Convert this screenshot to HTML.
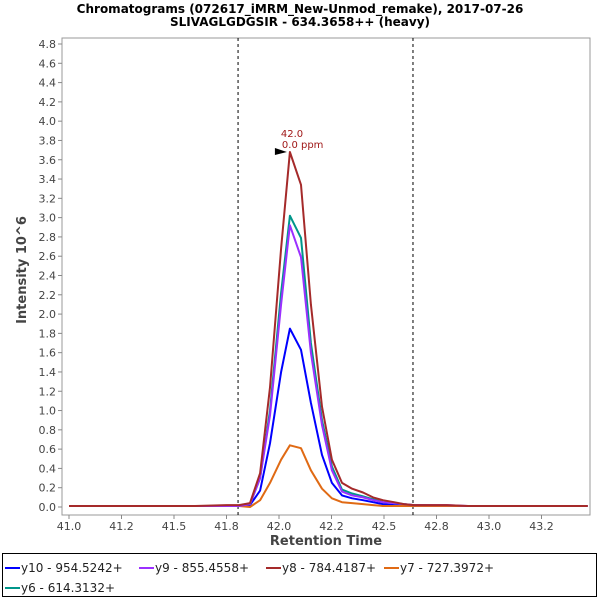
<!DOCTYPE html>
<html><head><meta charset="utf-8"><style>
body{margin:0;background:#fff;font-family:"DejaVu Sans","Liberation Sans",sans-serif}
#c{position:absolute;left:0;top:0}
text{font-family:"DejaVu Sans","Liberation Sans",sans-serif}
</style></head><body>
<svg id="c" width="600" height="600" xmlns="http://www.w3.org/2000/svg">
<g id="root"></g>
</svg>
<script>
const times=[41.0,41.3,41.6,41.75,41.81,41.862,41.910,41.957,42.010,42.052,42.105,42.152,42.205,42.252,42.300,42.348,42.400,42.448,42.495,42.548,42.595,42.643,42.7,42.8,42.9,43.0,43.2,43.47];
const y10=[0.01,0.01,0.01,0.01,0.01,0.02,0.17,0.66,1.4,1.85,1.63,1.08,0.54,0.25,0.12,0.09,0.07,0.05,0.03,0.02,0.01,0.01,0.01,0.01,0.01,0.01,0.01,0.01];
const y9=[0.01,0.01,0.01,0.01,0.01,0.03,0.3,0.95,2.1,2.92,2.59,1.6,0.85,0.38,0.16,0.12,0.1,0.07,0.05,0.04,0.03,0.02,0.02,0.02,0.01,0.01,0.01,0.01];
const y8=[0.01,0.01,0.01,0.02,0.02,0.04,0.35,1.24,2.68,3.68,3.34,2.1,1.04,0.49,0.25,0.19,0.15,0.1,0.07,0.05,0.03,0.02,0.02,0.02,0.01,0.01,0.01,0.01];
const y7=[0.01,0.01,0.01,0.01,0.01,0.0,0.07,0.25,0.49,0.64,0.61,0.38,0.19,0.09,0.05,0.04,0.03,0.02,0.01,0.01,0.01,0.01,0.01,0.01,0.01,0.01,0.01,0.01];
const y6=[0.01,0.01,0.01,0.01,0.01,0.03,0.3,1.0,2.22,3.02,2.79,1.7,0.9,0.42,0.18,0.14,0.11,0.08,0.05,0.04,0.03,0.02,0.02,0.01,0.01,0.01,0.01,0.01];
const yTicks=[0,0.2,0.4,0.6,0.8,1.0,1.2,1.4,1.6,1.8,2.0,2.2,2.4,2.6,2.8,3.0,3.2,3.4,3.6,3.8,4.0,4.2,4.4,4.6,4.8];
const xTicks=[41.0,41.25,41.5,41.75,42.0,42.25,42.5,42.75,43.0,43.25];
const xTickLabels=["41.0","41.2","41.5","41.8","42.0","42.2","42.5","42.8","43.0","43.2"];
const markers=[41.805,42.638];
const peakTime=42.052, peakValue=3.68;

const NS="http://www.w3.org/2000/svg";
const root=document.getElementById('root');
const PL=62,PR=590,PT=38,PB=515;
function X(t){return 69+(t-41.0)*210;}
function Y(v){return 507-v*(463/4.8);}
function el(tag,attrs,parent){const e=document.createElementNS(NS,tag);for(const k in attrs)e.setAttribute(k,attrs[k]);(parent||root).appendChild(e);return e;}
function txt(s,attrs){const e=el('text',attrs);e.textContent=s;return e;}

let t1=txt("Chromatograms (072617_iMRM_New-Unmod_remake), 2017-07-26",{x:300,y:13,'text-anchor':'middle','font-size':12,'font-weight':'bold',fill:'#000'});

let t2=txt("SLIVAGLGDGSIR - 634.3658++ (heavy)",{x:300,y:26,'text-anchor':'middle','font-size':12,'font-weight':'bold',fill:'#000'});


let pa=el('rect',{x:PL,y:PT,width:PR-PL,height:PB-PT,fill:'#fff',stroke:'#999','stroke-width':1});


yTicks.forEach(v=>{
  el('line',{x1:PL-4,x2:PL,y1:Y(v),y2:Y(v),stroke:'#888'});
  let l=txt(v.toFixed(1),{x:PL-6,y:Y(v)+4,'text-anchor':'end','font-size':11,fill:'#444'});
  
});
xTicks.forEach((t,i)=>{
  el('line',{x1:X(t),x2:X(t),y1:PB,y2:PB+4,stroke:'#888'});
  let l=txt(xTickLabels[i],{x:X(t),y:PB+15,'text-anchor':'middle','font-size':11,fill:'#444'});
  
});
let xt=txt("Retention Time",{x:326,y:545,'text-anchor':'middle','font-size':13,'font-weight':'bold',fill:'#444'});

let yt=txt("Intensity 10^6",{x:0,y:0,transform:'translate(26,270) rotate(-90)','text-anchor':'middle','font-size':13,'font-weight':'bold',fill:'#444'});


markers.forEach(t=>{
  let m=el('line',{x1:X(t),x2:X(t),y1:PT,y2:PB,stroke:'#000','stroke-dasharray':'3,3','stroke-width':1});
  
});

const series=[["y10",y10,"#0000ff"],["y6",y6,"#00968a"],["y7",y7,"#e06a14"],["y9",y9,"#9b30ff"],["y8",y8,"#a52a2a"]];
series.forEach(s=>{
  const d=times.map((t,i)=>(i?'L':'M')+X(t).toFixed(1)+','+Y(s[1][i]).toFixed(1)).join(' ');
  let p=el('path',{d:d,fill:'none',stroke:s[2],'stroke-width':2,'stroke-linejoin':'round'});
  
});

let ax=X(peakTime),ay=Y(peakValue);
let ar=el('polygon',{points:(ax-15)+','+(ay-4)+' '+(ax-3)+','+ay+' '+(ax-15)+','+(ay+3),fill:'#000'});

let a1=txt("42.0",{x:ax-9,y:ay-15,'font-size':10,fill:'#a01818'});

let a2=txt("0.0 ppm",{x:ax-8,y:ay-4,'font-size':10,fill:'#a01818'});


let lg=el('rect',{x:2.5,y:553.5,width:594,height:43,fill:'#fff',stroke:'#000'});

const leg=[["y10 - 954.5242+","#0000ff",5,569],["y9 - 855.4558+","#9b30ff",139,569],["y8 - 784.4187+","#a52a2a",266,569],["y7 - 727.3972+","#e06a14",384,569],["y6 - 614.3132+","#00968a",5,589]];
leg.forEach(L=>{
  let ln=el('line',{x1:L[2],x2:L[2]+15,y1:L[3]-1,y2:L[3]-1,stroke:L[1],'stroke-width':2});
  
  let t=txt(L[0],{x:L[2]+16,y:L[3]+3,'font-size':12,fill:'#222'});
  
});
</script>
</body></html>
